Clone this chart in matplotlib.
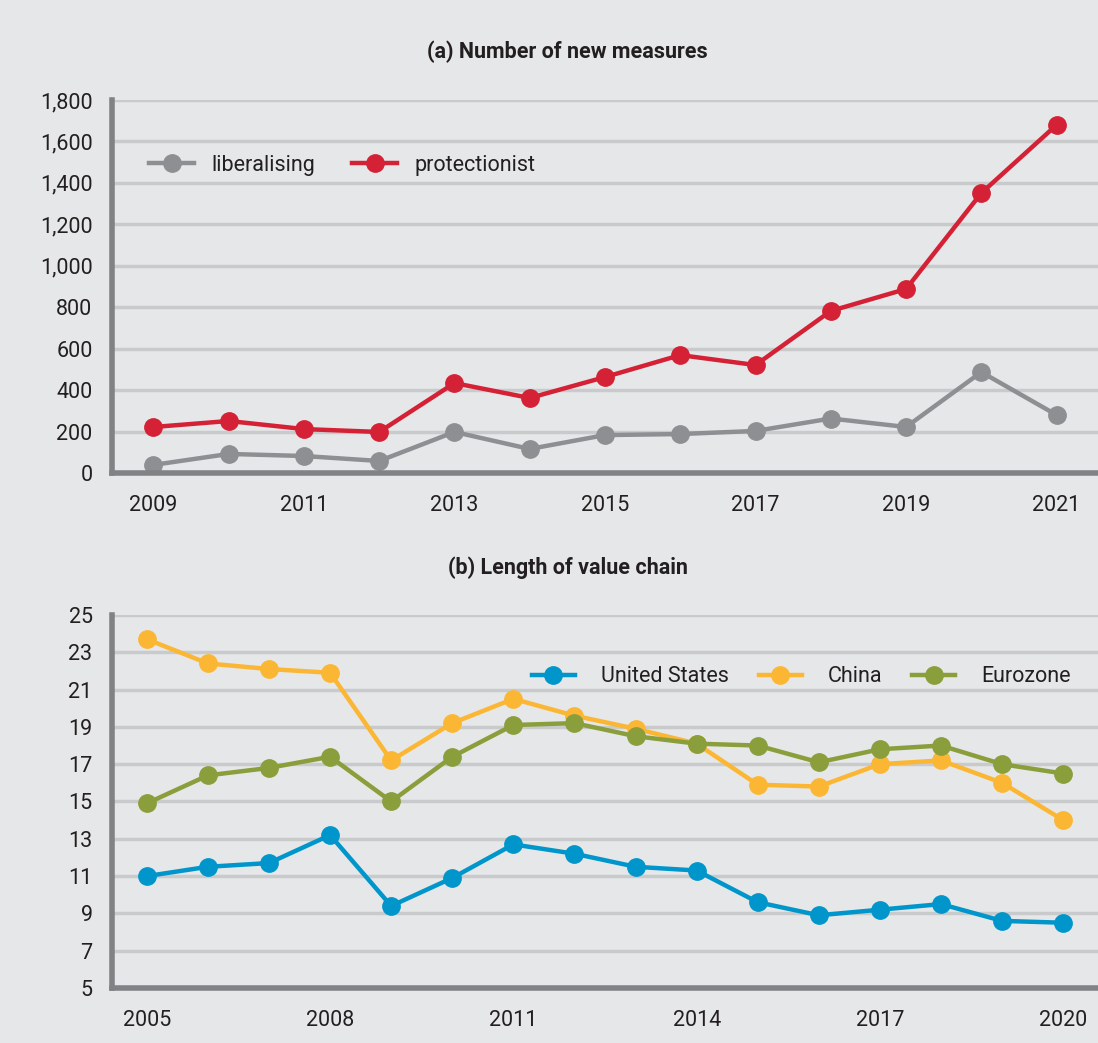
import matplotlib.pyplot as plt
from matplotlib.ticker import FuncFormatter

# (a) number of new measures
years_a = [2009, 2010, 2011, 2012, 2013, 2014, 2015, 2016, 2017, 2018, 2019, 2020, 2021]
liberalising = [39, 92, 82, 58, 198, 116, 183, 188, 203, 263, 222, 487, 280]
protectionist = [222, 251, 212, 198, 434, 362, 463, 569, 521, 782, 888, 1351, 1680]
ticks_a = [2009, 2011, 2013, 2015, 2017, 2019, 2021]

# (b) length of value chain
years_b = list(range(2005, 2021))
united_states = [11.0, 11.5, 11.7, 13.2, 9.4, 10.9, 12.7, 12.2, 11.5, 11.3, 9.6, 8.9, 9.2, 9.5, 8.6, 8.5]
china = [23.7, 22.4, 22.1, 21.9, 17.2, 19.2, 20.5, 19.6, 18.9, 18.1, 15.9, 15.8, 17.0, 17.2, 16.0, 14.0]
eurozone = [14.9, 16.4, 16.8, 17.4, 15.0, 17.4, 19.1, 19.2, 18.5, 18.1, 18.0, 17.1, 17.8, 18.0, 17.0, 16.5]
ticks_b = [2005, 2008, 2011, 2014, 2017, 2020]

BG = '#e6e7e8'
GRID = '#c9cacc'
SPINE = '#808285'
TEXT = '#231f20'

plt.rcParams['font.family'] = ['Roboto', 'DejaVu Sans']
plt.rcParams['font.stretch'] = 'condensed'
plt.rcParams['text.color'] = TEXT

fig = plt.figure(figsize=(10.98, 10.43), dpi=100, facecolor=BG)
ax1 = fig.add_axes([0.102, 0.5465, 0.898, 0.3576])
ax2 = fig.add_axes([0.102, 0.0527, 0.898, 0.3577])


def style(ax):
    ax.set_facecolor(BG)
    for s in ['top', 'right']:
        ax.spines[s].set_visible(False)
    for s in ['left', 'bottom']:
        ax.spines[s].set_color(SPINE)
        ax.spines[s].set_linewidth(4)
        ax.spines[s].set_zorder(5)
    ax.grid(axis='y', color=GRID, linewidth=2.5)
    ax.set_axisbelow(True)
    ax.tick_params(length=0, labelsize=15.5, colors=TEXT)
    ax.tick_params(axis='x', pad=16)
    ax.tick_params(axis='y', pad=14)


kw = dict(linewidth=3.2, marker='o', markersize=12.5, clip_on=False)

style(ax1)
ax1.plot(years_a, liberalising, color='#8e8f92', label='liberalising', **kw)
ax1.plot(years_a, protectionist, color='#d42135', label='protectionist', **kw)
ax1.set_xlim(2008.45, 2021.55)
ax1.set_ylim(0, 1800)
ax1.set_yticks(range(0, 1801, 200))
ax1.yaxis.set_major_formatter(FuncFormatter(lambda v, p: f'{int(v):,}'))
ax1.set_xticks(ticks_a)
ax1.legend(loc='upper left', bbox_to_anchor=(0.018, 0.905), ncol=2, frameon=False,
           fontsize=15.5, handlelength=2.1, columnspacing=1.7, handletextpad=0.8)
fig.text(0.517, 0.95, '(a) Number of new measures', ha='center', va='center',
         fontsize=15.5, fontweight='bold')

style(ax2)
ax2.plot(years_b, united_states, color='#0096cb', label='United States', **kw)
ax2.plot(years_b, china, color='#fbb733', label='China', **kw)
ax2.plot(years_b, eurozone, color='#8a9e3c', label='Eurozone', **kw)
ax2.set_xlim(2004.43, 2020.57)
ax2.set_ylim(5, 25)
ax2.set_yticks(range(5, 26, 2))
ax2.set_xticks(ticks_b)
ax2.legend(loc='upper right', bbox_to_anchor=(0.992, 0.915), ncol=3, frameon=False,
           fontsize=15.5, handlelength=2.0, columnspacing=1.4, handletextpad=1.2)
fig.text(0.517, 0.456, '(b) Length of value chain', ha='center', va='center',
         fontsize=15.5, fontweight='bold')

fig.savefig('out.png', dpi=100, facecolor=BG)
